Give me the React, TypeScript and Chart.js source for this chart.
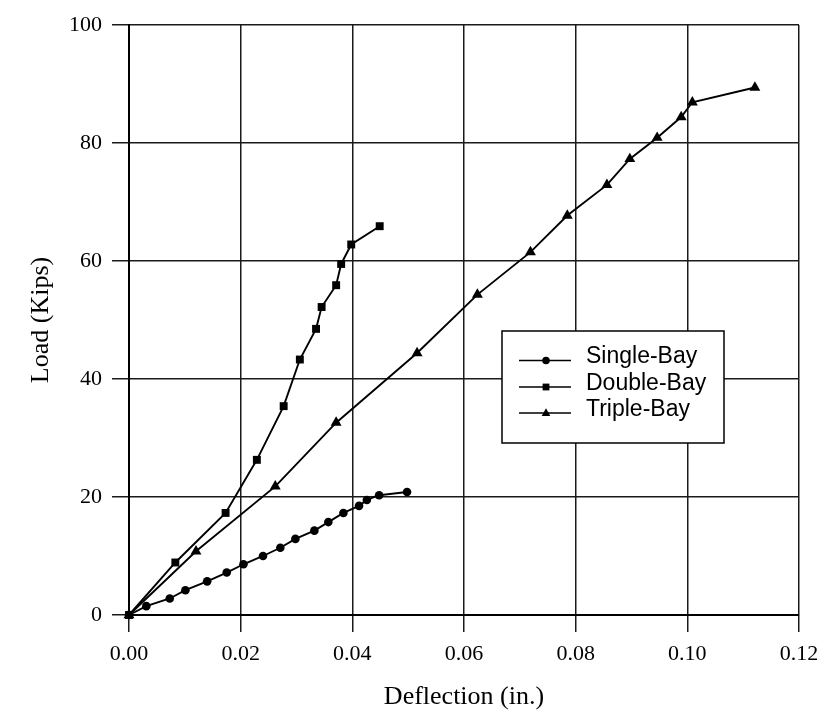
import React, { useEffect, useRef } from 'react';
import { Chart, registerables } from 'chart.js';

Chart.register(...registerables);

// ---- data ----
const seriesLabels = ['Single-Bay', 'Double-Bay', 'Triple-Bay'];

const singleX = [0, 0.0031, 0.0073, 0.0101, 0.014, 0.0175, 0.0205, 0.024, 0.0271, 0.0298, 0.0332, 0.0357, 0.0384, 0.0412, 0.0426, 0.0448, 0.0498];
const singleY = [0, 1.5, 2.8, 4.2, 5.7, 7.2, 8.6, 10.0, 11.4, 12.9, 14.3, 15.75, 17.3, 18.5, 19.5, 20.3, 20.85];

const doubleX = [0, 0.0083, 0.0173, 0.0229, 0.0277, 0.0306, 0.0335, 0.0345, 0.0371, 0.038, 0.0398, 0.0449];
const doubleY = [0, 8.9, 17.3, 26.3, 35.4, 43.3, 48.5, 52.2, 55.9, 59.5, 62.8, 65.9];

const tripleX = [0, 0.012, 0.0262, 0.0371, 0.0516, 0.0624, 0.0719, 0.0785, 0.0856, 0.0897, 0.0946, 0.0989, 0.1009, 0.1121];
const tripleY = [0, 10.8, 21.8, 32.6, 44.4, 54.3, 61.5, 67.7, 72.9, 77.3, 80.9, 84.4, 86.9, 89.4];

const xTicks = [0, 0.02, 0.04, 0.06, 0.08, 0.1, 0.12];
const yTicks = [0, 20, 40, 60, 80, 100];

const xTitle = 'Deflection (in.)';
const yTitle = 'Load (Kips)';

const toPoints = (xs: number[], ys: number[]) => xs.map((x, i) => ({ x, y: ys[i] }));

const markerStyles = ['circle', 'rect', 'triangle'];
const markerRadii = [4.3, 5.6, 6.3];

function drawMarker(ctx: CanvasRenderingContext2D, style: string, x: number, y: number, r: number) {
  ctx.beginPath();
  if (style === 'circle') {
    ctx.arc(x, y, r, 0, Math.PI * 2);
  } else if (style === 'rect') {
    ctx.rect(x - r, y - r, 2 * r, 2 * r);
  } else {
    ctx.moveTo(x, y - r * 1.1);
    ctx.lineTo(x + r, y + r * 0.7);
    ctx.lineTo(x - r, y + r * 0.7);
    ctx.closePath();
  }
  ctx.fill();
}

const boxLegend = {
  id: 'boxLegend',
  afterDatasetsDraw(chart: any) {
    const ctx: CanvasRenderingContext2D = chart.ctx;
    const left = 502, top = 331, right = 724, bottom = 443;
    ctx.save();
    ctx.fillStyle = '#ffffff';
    ctx.fillRect(left, top, right - left, bottom - top);
    ctx.strokeStyle = '#000000';
    ctx.lineWidth = 1.5;
    ctx.strokeRect(left, top, right - left, bottom - top);
    const lineYs = [360.5, 387, 413];
    chart.data.datasets.forEach((ds: any, i: number) => {
      const y = lineYs[i];
      ctx.strokeStyle = '#000';
      ctx.lineWidth = 1.5;
      ctx.beginPath();
      ctx.moveTo(519, y);
      ctx.lineTo(571, y);
      ctx.stroke();
      ctx.fillStyle = '#000';
      drawMarker(ctx, markerStyles[i], 546, y, [3.8, 3.4, 4.3][i]);
      ctx.font = '23px "Liberation Sans", Arial, sans-serif';
      ctx.textBaseline = 'middle';
      ctx.textAlign = 'left';
      ctx.fillText(ds.label, 586, y - 3.5);
    });
    ctx.restore();
  },
};

export default function App() {
  const ref = useRef<HTMLCanvasElement | null>(null);

  useEffect(() => {
    if (!ref.current) return;
    const series = [toPoints(singleX, singleY), toPoints(doubleX, doubleY), toPoints(tripleX, tripleY)];
    const tickFont = { family: '"Liberation Serif", "Times New Roman", serif', size: 22 };
    const titleFont = { family: '"Liberation Serif", "Times New Roman", serif', size: 26 };
    const gridColor = '#1a1a1a';
    const chart = new Chart(ref.current, {
      type: 'line',
      data: {
        datasets: series.map((pts, i) => ({
          label: seriesLabels[i],
          data: pts,
          borderColor: '#000',
          borderWidth: 1.9,
          backgroundColor: '#000',
          pointStyle: markerStyles[i] as any,
          pointRadius: markerRadii[i],
          pointBackgroundColor: '#000',
          pointBorderColor: '#000',
          pointBorderWidth: 0,
          tension: 0,
          fill: false,
          clip: false as any,
        })),
      },
      plugins: [boxLegend],
      options: {
        responsive: false,
        animation: false,
        devicePixelRatio: 1,
        layout: { padding: { left: 0, top: 25, right: 23, bottom: 0 } },
        plugins: {
          legend: { display: false },
          tooltip: { enabled: false },
        },
        scales: {
          x: {
            type: 'linear',
            min: 0,
            max: 0.12,
            afterBuildTicks: (s: any) => { s.ticks = xTicks.map((v) => ({ value: v })); },
            afterFit: (s: any) => { s.height = 102; s.paddingLeft = 0; s.paddingRight = 0; },
            ticks: {
              color: '#000',
              font: tickFont,
              padding: 9,
              maxRotation: 0,
              autoSkip: false,
              callback: (v: any) => Number(v).toFixed(2),
            },
            grid: { color: gridColor, lineWidth: 1.5, tickLength: 17, drawTicks: true },
            border: { display: true, color: '#000', width: 2 },
            title: { display: true, text: xTitle, color: '#000', font: titleFont, padding: { top: 0, bottom: 4 } },
          },
          y: {
            type: 'linear',
            min: 0,
            max: 100,
            afterBuildTicks: (s: any) => { s.ticks = yTicks.map((v) => ({ value: v })); },
            afterFit: (s: any) => { s.width = 129; s.paddingTop = 0; s.paddingBottom = 0; },
            ticks: {
              color: '#000',
              font: tickFont,
              padding: 10,
              autoSkip: false,
              callback: (v: any) => String(v),
            },
            grid: { color: gridColor, lineWidth: 1.5, tickLength: 17, drawTicks: true },
            border: { display: true, color: '#000', width: 2 },
            title: { display: true, text: yTitle, color: '#000', font: titleFont, padding: { top: 26, bottom: 0 } },
          },
        },
      } as any,
    });
    return () => chart.destroy();
  }, []);

  return (
    <div style={{ position: 'fixed', left: 0, top: 0, width: 822, height: 717, background: '#fff' }}>
      <canvas ref={ref} width={822} height={717} style={{ display: 'block', width: 822, height: 717 }} />
    </div>
  );
}
